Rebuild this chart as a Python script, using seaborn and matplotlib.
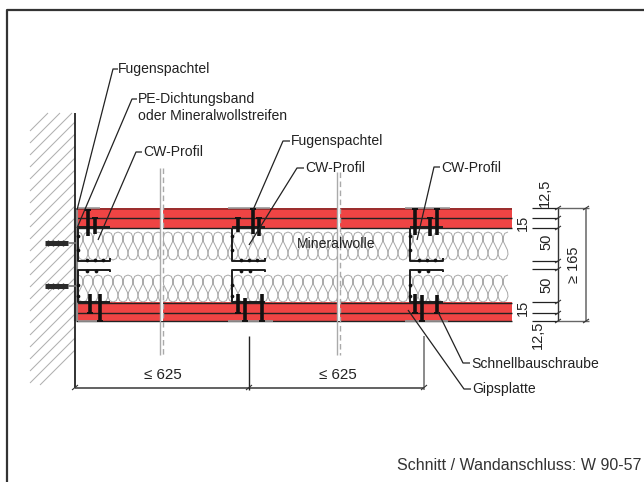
import pandas as pd
import matplotlib.pyplot as plt
import seaborn as sns

sns.set_theme(style="white")
plt.rcParams['font.family'] = ['Liberation Sans', 'DejaVu Sans']

# Drawing values
BOARD_BANDS = [(208, 228), (302, 321)]
BOARD_LINES = [217.5, 227.5, 302.5, 313, 321]
BOARD_LEFT, BOARD_RIGHT = 76, 512

WOOL_STRIPS = [(232, 260), (275, 302)]
WOOL_DX = [0, 3.28, 5.0, 4.53, 2.5, .47, 0, 1.72, 5, 8.28, 10, 9.53, 7.5, 5.47, 5, 6.72, 10]
WOOL_DY = [0, .05, .2, .35, .5, .65, .8, .95, 1, .95, .8, .65, .5, .35, .2, .05, 0]
WOOL_STARTS = list(range(78, 506, 10))

STUD_WEBS = [78, 232, 410]
STUD_WIDTHS = [32, 33, 33]

AXIS_X = [160.5, 337]
AXIS_TOP = [168, 172]

# x, head y, tip y
SCREW_X = [88, 95, 90.5, 100.5, 238, 253, 259, 238, 245, 262, 415, 430, 437, 415, 422, 437]
SCREW_HEAD = [210, 218, 313, 321, 218, 209, 218, 313, 321, 321, 209, 218, 209, 313, 321, 313]
SCREW_TIP = [236, 234, 294, 294, 232, 234, 236, 294, 298, 294, 235, 236, 235, 294, 295, 295]

DOWEL_Y = [243, 286]

LEADERS = [
    [(118, 69), (113, 69), (77, 210)],
    [(137, 99), (132, 99), (77, 228)],
    [(142, 152), (136, 152), (98, 240)],
    [(290, 141), (283, 141), (253, 210)],
    [(304, 168), (297, 168), (249, 245)],
    [(440, 167), (434, 167), (417, 240)],
    [(470, 363), (463, 363), (438, 312)],
    [(471, 389), (464, 389), (408, 310)],
]

DIM_TICKS_Y = [208, 218, 228, 261, 269, 302, 313, 321]
DIM_TICKS_X = [75, 249, 424]

LABELS = ["Fugenspachtel", "PE-Dichtungsband", "oder Mineralwollstreifen", "CW-Profil",
          "Fugenspachtel", "CW-Profil", "CW-Profil", "Mineralwolle",
          "Schnellbauschraube", "Gipsplatte"]
LABEL_X = [118, 138, 138, 143, 291, 305, 441, 297, 471, 472]
LABEL_Y = [69, 99, 116.5, 152.5, 141, 168.5, 167.5, 243.5, 364, 389.5]

SPAN_TEXT = ["≤ 625", "≤ 625"]
SPAN_X = [144, 319]
SPAN_Y = [375, 375]

FOOT_TEXT = "Schnitt / Wandanschluss: W 90-57"

DIM_TEXT = ["12,5", "15", "50", "≥ 165", "50", "15", "12,5"]
DIM_TEXT_X = [545, 523, 546, 574, 546, 523, 538]
DIM_TEXT_Y = [193, 223, 242, 265, 285, 308, 335]


def draw(segments, color, lw, zorder, dashes=False):
    # one lineplot per style, each polyline is its own unit
    rows = []
    for i, seg in enumerate(segments):
        for x, y in seg:
            rows.append({'x': x, 'y': y, 'seg': i})
    df = pd.DataFrame(rows)
    sns.lineplot(data=df, x='x', y='y', units='seg', estimator=None, sort=False,
                 color=color, lw=lw, zorder=zorder, ax=ax, legend=False,
                 solid_capstyle='butt', **({'linestyle': (0, (4, 2.5))} if dashes else {}))


fig = plt.figure(figsize=(6.44, 4.82), dpi=100)
ax = fig.add_axes([0, 0, 1, 1])

# Frame, only top and left are visible
draw([[(7, 482), (7, 10), (644, 10)]], '#333333', 1.6, 8)

# Wall hatching
hatch = []
for y0 in range(131, 396, 12):
    x0 = 30
    y_end = y0 - 45
    x_end = 75
    if y_end < 113:
        x_end = 75 - (113 - y_end)
        y_end = 113
    if y0 > 385:
        x0 = 30 + (y0 - 385)
        y_s = 385
    else:
        y_s = y0
    hatch.append([(x0, y_s), (x_end, y_end)])
draw(hatch, '#b0b0b0', 0.75, 1)
draw([[(75.5, 113), (75.5, 388)]], '#222222', 1.3, 6)
draw([[(76.5, 208), (76.5, 321)]], '#8e8e8e', 3, 5)

# Gypsum boards
for top, bottom in BOARD_BANDS:
    ax.fill_between([BOARD_LEFT + 2, BOARD_RIGHT], top, bottom, color='#ef4444', lw=0, zorder=2)
draw([[(BOARD_LEFT, y), (BOARD_RIGHT, y)] for y in BOARD_LINES], '#222222', 1.0, 4)
draw([[(BOARD_LEFT + 2, 208.5), (BOARD_RIGHT, 208.5)]], '#8c2a2a', 1.2, 4)

# Mineral wool
wool = []
for top, bottom in WOOL_STRIPS:
    for x0 in WOOL_STARTS:
        wool.append([(x0 + dx, top + dy * (bottom - top)) for dx, dy in zip(WOOL_DX, WOOL_DY)])
draw(wool, '#a8a8a8', 0.7, 2)

# CW studs
studs = []
thread = []
for web, width in zip(STUD_WEBS, STUD_WIDTHS):
    studs.append([(web, 228), (web, 260.5), (web + width, 260.5), (web + width, 258)])
    studs.append([(web + width, 272), (web + width, 270), (web, 270), (web, 302), (web + width, 302)])
    studs.append([(web, 227), (web + width, 227)])
    thread += [(web, 236), (web, 250), (web, 285), (web, 296),
               (web + 9, 260), (web + 17, 260), (web + 25, 260), (web + 9, 271), (web + 18, 271)]
draw(studs, '#1c1c1c', 1.4, 6)
sns.scatterplot(x=[p[0] for p in thread], y=[p[1] for p in thread], s=7, color='#111111',
                linewidth=0, zorder=6, ax=ax, legend=False)

# Gray joint caps on the board faces
caps = [[(77, 208), (100, 208)], [(228, 321), (273, 321)], [(405, 208), (450, 208)],
        [(78, 321), (100, 321)], [(405, 321), (448, 321)], [(228, 208), (270, 208)]]
draw(caps, '#999999', 1.2, 5)

# Axis lines of the board joints
for x in AXIS_X:
    ax.fill_between([x, x + 3], 208, 321, color='white', lw=0, zorder=4.5)
draw([[(x, t), (x, 355)] for x, t in zip(AXIS_X, AXIS_TOP)], '#aaaaaa', 1.0, 5)
draw([[(x + 3, t), (x + 3, 355)] for x, t in zip(AXIS_X, AXIS_TOP)], '#aaaaaa', 1.0, 5, dashes=True)

# Screws
shafts = [[(x, h), (x, t)] for x, h, t in zip(SCREW_X, SCREW_HEAD, SCREW_TIP)]
heads = [[(x - 3, h), (x + 3, h)] for x, h in zip(SCREW_X, SCREW_HEAD)]
draw(shafts, '#111111', 2.6, 7)
draw(heads, '#111111', 1.4, 7)

# Wall dowels
draw([[(45, y), (68, y)] for y in DOWEL_Y], '#2a2a2a', 3.6, 6)
draw([[(68, y), (76, y)] for y in DOWEL_Y], '#777777', 1.2, 6)
draw([[(x, y - 3), (x, y + 3)] for y in DOWEL_Y for x in (48, 53, 58, 63)], '#2a2a2a', 1.0, 6)

# Leader lines
draw(LEADERS, '#222222', 0.9, 9)

# Dimension chains
draw([[(75, 387.5), (424, 387.5)]], '#555555', 1.3, 6)
draw([[(249, 336), (249, 390)]], '#222222', 1.0, 6)
draw([[(424, 336), (424, 390)]], '#777777', 1.2, 6)
draw([[(x - 3, 390), (x + 3, 385)] for x in DIM_TICKS_X], '#333333', 0.8, 7)
draw([[(558, 208), (558, 321)]], '#333333', 1.0, 6)
draw([[(586, 208), (586, 321)]], '#666666', 1.1, 6)
draw([[(532, y), (558, y)] for y in DIM_TICKS_Y], '#222222', 0.9, 6)
draw([[(558, 208), (589, 208)], [(558, 321), (589, 321)]], '#666666', 1.0, 6)
draw([[(555, y + 2), (561, y - 2)] for y in DIM_TICKS_Y], '#333333', 0.8, 7)
draw([[(583, y + 2), (589, y - 2)] for y in (208, 321)], '#333333', 0.8, 7)

# Texts
for t, x, y in zip(LABELS, LABEL_X, LABEL_Y):
    ax.text(x, y, t, fontsize=10.1, color='#222222', va='center', ha='left', zorder=10)
for t, x, y in zip(SPAN_TEXT, SPAN_X, SPAN_Y):
    ax.text(x, y, t, fontsize=10.9, color='#222222', va='center', ha='left', zorder=10)
for t, x, y in zip(DIM_TEXT, DIM_TEXT_X, DIM_TEXT_Y):
    ax.text(x, y, t, fontsize=10.5, color='#222222', va='center', ha='center', rotation=90, zorder=10)
ax.text(397, 465.5, FOOT_TEXT, fontsize=11.5, color='#333333', va='center', ha='left', zorder=10)

ax.set_xlim(0, 644)
ax.set_ylim(482, 0)
ax.axis('off')
fig.savefig('out.png', dpi=100)
